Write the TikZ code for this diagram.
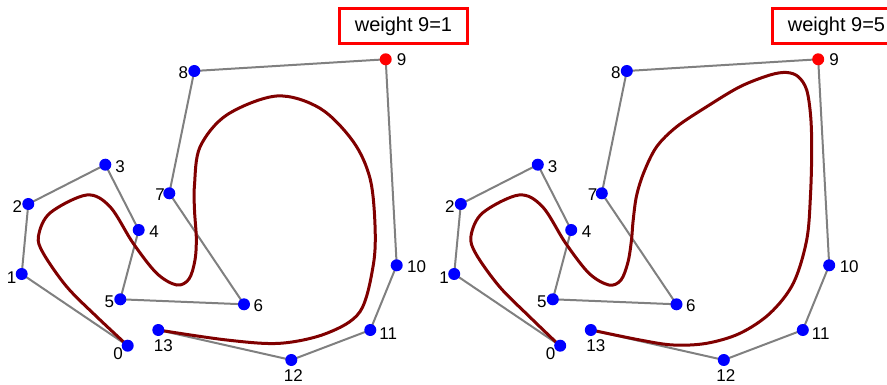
\documentclass[tikz,border=0pt]{standalone}
\usepackage{fontspec}
\setmainfont{Liberation Sans}
\usetikzlibrary{positioning, calc}
\definecolor{curvered}{HTML}{800000}

\begin{document}
\begin{tikzpicture}[
        x=1pt, y=-1pt,
        dot/.style={circle, fill=blue, inner sep=0pt, minimum size=12pt},
        hidot/.style={dot, fill=red},
        num/.style={inner sep=0pt, font=\fontsize{17}{19}\selectfont},
        poly/.style={draw=gray, line width=2pt},
        nurbs/.style={draw=curvered, line width=3pt, line join=round},
        wbox/.style={draw=red, line width=3pt, minimum width=128pt, minimum height=35.5pt, inner sep=0pt, font=\fontsize{20}{22}\selectfont}
        ]
        \useasboundingbox (0,0) rectangle (887,385);

        % Control points (both panels)
        \foreach \pn/\s in {L/0, R/432.5} {
            \begin{scope}[xshift=\s]
                \foreach \i/\x/\y in {0/127.7/345.7, 1/21.7/274, 2/28.3/204, 3/105.3/164.7,
                        4/138.7/230, 5/120.3/299.3, 6/244/304.3, 7/169.3/193.3, 8/194.3/71,
                        9/385.7/59.3, 10/396.7/265.3, 11/370.3/330, 12/291.3/360, 13/158.3/330}
                    \coordinate (\pn\i) at (\x,\y);
            \end{scope}
            % Polygon
            \draw[poly] (\pn0) \foreach \i in {1,...,13} {-- (\pn\i)};
        }

        % Curves
        \draw[nurbs] plot[smooth, tension=0.55] coordinates {(127.7,345.7) (96.7,316.7) (66.7,286.7)
            (43.3,253.3) (38.5,236) (50,213) (86.7,195) (110,206.7) (133,243) (156.7,273.3)
            (176.7,285) (189,279) (195,260) (196.3,238) (194.5,210) (194.5,185) (200,147)
            (226.7,115) (276.7,96) (320,108.3) (353.3,141.7) (370,178.3) (375,225) (373.3,265)
            (360,311.7) (326.7,333.3) (280,343.3) (226.7,340) (158.3,330)};
        \draw[nurbs] plot[smooth, tension=0.55] coordinates {(560,346) (529.5,316.7) (499.5,286.7)
            (476,254) (471,236) (482.5,213) (519,195) (542.5,206.7) (565.5,243) (589,273.3)
            (609,285) (621,280) (628,262) (631.5,240) (633,222) (636.5,196) (644,172)
            (656.7,146.7) (676.7,126.7) (706.7,106.7) (740,86.7) (770,75) (786.7,72.5)
            (798.3,76.7) (806.7,90) (810.7,116.7) (811.7,150) (810.5,195) (806.7,240)
            (793.3,283.3) (770,313.3) (740,333.3) (706.7,343.3) (673.3,345) (640,340) (591.3,330)};

        % Dots and labels
        \foreach \pn in {L, R} {
            \foreach \i in {0,...,8,10,11,12,13}
                \node[dot] (d\pn\i) at (\pn\i) {};
            \node[hidot] (d\pn9) at (\pn9) {};
            \foreach \i/\lx/\ly in {0/-9.5/7.5, 1/-10/3.3, 2/-11/2.7, 3/14.7/2, 4/15.3/1.7,
                    5/-11/2.4, 6/14.3/1.4, 7/-9.3/1, 8/-11/1.7, 9/16/0.7, 10/20/1.4,
                    11/18/3.3, 12/2/16, 13/5/15.7}
                \node[num] (n\pn\i) at ($(d\pn\i)+(\lx,\ly)$) {\i};
        }

        % Weights
        \node[wbox] (wL) at (403.5,26) {weight 9=1};
        \node[wbox] (wR) at (836.5,26) {weight 9=5};
\end{tikzpicture}
\end{document}
